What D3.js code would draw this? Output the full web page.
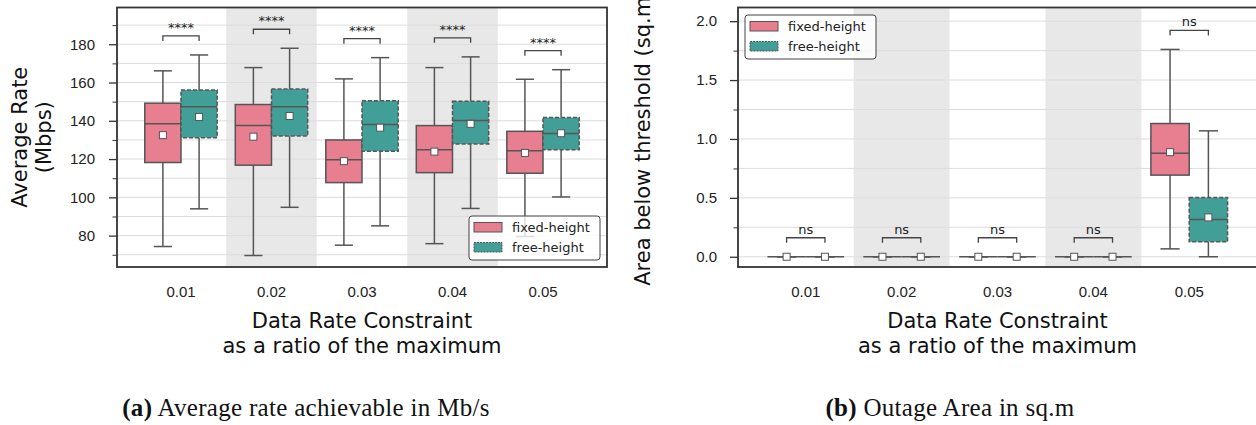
<!DOCTYPE html>
<html>
<head>
<meta charset="utf-8">
<script src="https://cdn.jsdelivr.net/npm/d3@7"></script>
<style>
  body { margin: 0; background: #fff; }
  svg { display: block; font-family: "DejaVu Sans", sans-serif; }
</style>
</head>
<body>
<svg id="chart" width="1256" height="425"></svg>
<script>
// Categories along x (ratio of max data rate)
var categories = ["0.01", "0.02", "0.03", "0.04", "0.05"];
var seriesNames = ["fixed-height", "free-height"];

// Box summaries: [low whisker, q1, median, q3, high whisker, mean]
var rateFixed = [
  [74.3, 118.2, 138.4, 149.2, 166.1, 132.5],
  [69.6, 116.8, 137.5, 148.5, 167.8, 131.7],
  [75.0, 107.7, 119.7, 130.0, 161.9, 118.9],
  [75.8, 112.9, 124.9, 137.5, 167.8, 123.9],
  [79.5, 112.6, 124.3, 134.5, 161.7, 123.2]
];
var rateFree = [
  [94.0, 131.2, 147.4, 156.1, 174.4, 142.0],
  [94.8, 132.1, 147.4, 156.6, 177.9, 142.5],
  [85.1, 124.1, 138.0, 150.5, 173.0, 136.4],
  [94.2, 127.9, 140.1, 150.2, 173.4, 138.4],
  [100.2, 124.9, 133.3, 141.7, 166.7, 133.5]
];
var areaFixed = [
  [0, 0, 0, 0, 0, 0],
  [0, 0, 0, 0, 0, 0],
  [0, 0, 0, 0, 0, 0],
  [0, 0, 0, 0, 0, 0],
  [0.067, 0.693, 0.879, 1.131, 1.76, 0.888]
];
var areaFree = [
  [0, 0, 0, 0, 0, 0],
  [0, 0, 0, 0, 0, 0],
  [0, 0, 0, 0, 0, 0],
  [0, 0, 0, 0, 0, 0],
  [0.0, 0.127, 0.317, 0.503, 1.069, 0.334]
];

// Significance labels per category
var rateSig = ["****", "****", "****", "****", "****"];
var areaSig = ["ns", "ns", "ns", "ns", "ns"];

// Tick values
var rateTicks = [80, 100, 120, 140, 160, 180];
var rateMinor = [70, 90, 110, 130, 150, 170, 190];
var areaTicks = [0, 0.5, 1.0, 1.5, 2.0];
var areaMinor = [0.25, 0.75, 1.25, 1.75];

var colors = ["#e77f91", "#429f97"];
var edge = "#555555";

var svg = d3.select("#chart");

function drawPanel(opts) {
  var x = d3.scaleBand()
    .domain(categories)
    .range([opts.left, opts.right])
    .paddingInner(0)
    .paddingOuter(0.207);
  var y = d3.scaleLinear()
    .domain(opts.ydomain)
    .range([267, 7.5]);
  var step = x.step();
  var boxW = step * 0.4;

  var g = svg.append("g");

  // alternating grey bands behind every second category
  g.selectAll("rect.band")
    .data(categories.filter(function(d, i) { return i % 2 === 1; }))
    .enter().append("rect")
      .attr("class", "band")
      .attr("x", function(d) { return x(d); })
      .attr("y", y.range()[1])
      .attr("width", step)
      .attr("height", y.range()[0] - y.range()[1])
      .style("fill", "#e8e8e8");

  // grid on major + minor values
  g.selectAll("line.grid")
    .data(opts.ticks.concat(opts.minor))
    .enter().append("line")
      .attr("class", "grid")
      .attr("x1", opts.left).attr("x2", opts.right)
      .attr("y1", function(d) { return y(d); })
      .attr("y2", function(d) { return y(d); })
      .style("stroke", "#dcdcdc")
      .style("stroke-width", 1);

  // y axis, major then minor ticks
  var yAxis = g.append("g")
    .attr("transform", "translate(" + opts.left + ",0)")
    .call(d3.axisLeft(y).tickValues(opts.ticks).tickSize(8).tickPadding(opts.pad).tickFormat(opts.fmt));
  yAxis.select(".domain").remove();
  yAxis.selectAll("line").style("stroke", "#333").style("stroke-width", 1.3);
  yAxis.selectAll("text").style("font-size", "15px").style("fill", "#222");

  var yMinor = g.append("g")
    .attr("transform", "translate(" + opts.left + ",0)")
    .call(d3.axisLeft(y).tickValues(opts.minor).tickSize(4.5).tickFormat(""));
  yMinor.select(".domain").remove();
  yMinor.selectAll("line").style("stroke", "#333").style("stroke-width", 1);

  // x axis labels only
  var xAxis = g.append("g")
    .attr("transform", "translate(0,267)")
    .call(d3.axisBottom(x).tickSize(0).tickPadding(19));
  xAxis.select(".domain").remove();
  xAxis.selectAll("text").style("font-size", "15px").style("fill", "#222");

  // boxes for both series
  [opts.fixed, opts.free].forEach(function(series, s) {
    var boxes = g.selectAll("g.box" + s)
      .data(series)
      .enter().append("g")
        .attr("class", "box" + s);

    var cx = function(d, i) { return x(categories[i]) + step / 2 + (s === 0 ? -boxW / 2 : boxW / 2); };

    // whiskers
    boxes.append("line")
      .attr("x1", cx).attr("x2", cx)
      .attr("y1", function(d) { return y(d[0]); })
      .attr("y2", function(d) { return y(d[1]); })
      .style("stroke", edge).style("stroke-width", 1.5);
    boxes.append("line")
      .attr("x1", cx).attr("x2", cx)
      .attr("y1", function(d) { return y(d[3]); })
      .attr("y2", function(d) { return y(d[4]); })
      .style("stroke", edge).style("stroke-width", 1.5);
    // caps
    [0, 4].forEach(function(k) {
      boxes.append("line")
        .attr("x1", function(d, i) { return cx(d, i) - boxW / 4; })
        .attr("x2", function(d, i) { return cx(d, i) + boxW / 4; })
        .attr("y1", function(d) { return y(d[k]); })
        .attr("y2", function(d) { return y(d[k]); })
        .style("stroke", edge).style("stroke-width", 1.5);
    });
    // box body
    boxes.append("rect")
      .attr("x", function(d, i) { return cx(d, i) - boxW / 2; })
      .attr("y", function(d) { return y(d[3]); })
      .attr("width", boxW)
      .attr("height", function(d) { return y(d[1]) - y(d[3]); })
      .style("fill", colors[s])
      .style("stroke", edge)
      .style("stroke-width", 1.5)
      .style("stroke-dasharray", s === 1 ? "4,2" : null);
    // median
    boxes.append("line")
      .attr("x1", function(d, i) { return cx(d, i) - boxW / 2; })
      .attr("x2", function(d, i) { return cx(d, i) + boxW / 2; })
      .attr("y1", function(d) { return y(d[2]); })
      .attr("y2", function(d) { return y(d[2]); })
      .style("stroke", edge).style("stroke-width", 1.5);
    // mean marker
    boxes.append("rect")
      .attr("x", function(d, i) { return cx(d, i) - 3.5; })
      .attr("y", function(d) { return y(d[5]) - 3.5; })
      .attr("width", 7).attr("height", 7)
      .style("fill", "#fff").style("stroke", edge).style("stroke-width", 1);
  });

  // significance brackets above the taller whisker
  var br = g.selectAll("g.sig")
    .data(opts.sig)
    .enter().append("g")
      .attr("class", "sig");
  var feet = function(d, i) { return y(Math.max(opts.fixed[i][4], opts.free[i][4])) - 14; };
  br.append("path")
    .attr("d", function(d, i) {
      var xa = x(categories[i]) + step / 2 - boxW / 2;
      var xb = x(categories[i]) + step / 2 + boxW / 2;
      var yb = feet(d, i);
      return "M" + xa + "," + yb + "V" + (yb - 5) + "H" + xb + "V" + yb;
    })
    .style("fill", "none").style("stroke", "#444").style("stroke-width", 1.3);
  br.append("text")
    .attr("x", function(d, i) { return x(categories[i]) + step / 2; })
    .attr("y", function(d, i) { return feet(d, i) - 9; })
    .attr("text-anchor", "middle")
    .style("font-size", "13px")
    .style("fill", "#222")
    .text(function(d) { return d; });

  // legend
  var lg = g.append("g").attr("transform", "translate(" + opts.legend[0] + "," + opts.legend[1] + ")");
  lg.append("rect")
    .attr("width", 131).attr("height", 44).attr("rx", 3)
    .style("fill", "#fff").style("fill-opacity", 0.8)
    .style("stroke", "#444").style("stroke-width", 1);
  seriesNames.forEach(function(name, s) {
    lg.append("rect")
      .attr("x", 5).attr("y", 6.5 + s * 20)
      .attr("width", 28).attr("height", 9.5)
      .style("fill", colors[s]).style("stroke", edge).style("stroke-width", 1)
      .style("stroke-dasharray", s === 1 ? "2,1" : null);
    lg.append("text")
      .attr("x", 43).attr("y", 16 + s * 20)
      .style("font-size", "13px").style("fill", "#222")
      .text(name);
  });

  // frame
  g.append("rect")
    .attr("x", opts.left).attr("y", 7.5)
    .attr("width", opts.right - opts.left).attr("height", 259.5)
    .style("fill", "none").style("stroke", "#333").style("stroke-width", 1.8);

  // axis titles
  var midY = (267 + 7.5) / 2;
  opts.ylabel.forEach(function(line, k) {
    g.append("text")
      .attr("transform", "translate(" + (opts.ylabelX + k * 24) + "," + midY + ") rotate(-90)")
      .attr("text-anchor", "middle")
      .attr("dominant-baseline", "central")
      .style("font-size", "21px").style("fill", "#111")
      .text(line);
  });
  var midX = (opts.left + opts.right) / 2;
  ["Data Rate Constraint", "as a ratio of the maximum"].forEach(function(line, k) {
    g.append("text")
      .attr("x", midX).attr("y", 321 + k * 25)
      .attr("text-anchor", "middle")
      .attr("dominant-baseline", "central")
      .style("font-size", "21px").style("fill", "#111")
      .text(line);
  });

  // subfigure caption
  var cap = g.append("text")
    .attr("x", opts.capX).attr("y", 416)
    .attr("text-anchor", "middle")
    .style("font-family", "'Liberation Serif', serif")
    .style("font-size", "25px").style("letter-spacing", "0.3px").style("fill", "#111");
  cap.append("tspan").style("font-weight", "bold").text(opts.caption[0]);
  cap.append("tspan").text(" " + opts.caption[1]);
}

drawPanel({
  left: 117, right: 607,
  ydomain: [63.6, 199.2],
  ticks: rateTicks, minor: rateMinor,
  fmt: d3.format("d"), pad: 14,
  fixed: rateFixed, free: rateFree, sig: rateSig,
  legend: [469, 216],
  ylabel: ["Average Rate", "(Mbps)"], ylabelX: 20,
  capX: 306, caption: ["(a)", "Average rate achievable in Mb/s"]
});

drawPanel({
  left: 738, right: 1257,
  ydomain: [-0.087, 2.116],
  ticks: areaTicks, minor: areaMinor,
  fmt: d3.format(".1f"), pad: 13,
  fixed: areaFixed, free: areaFree, sig: areaSig,
  legend: [745, 15],
  ylabel: ["Area below threshold (sq.m)"], ylabelX: 643,
  capX: 950, caption: ["(b)", "Outage Area in sq.m"]
});
</script>
</body>
</html>
